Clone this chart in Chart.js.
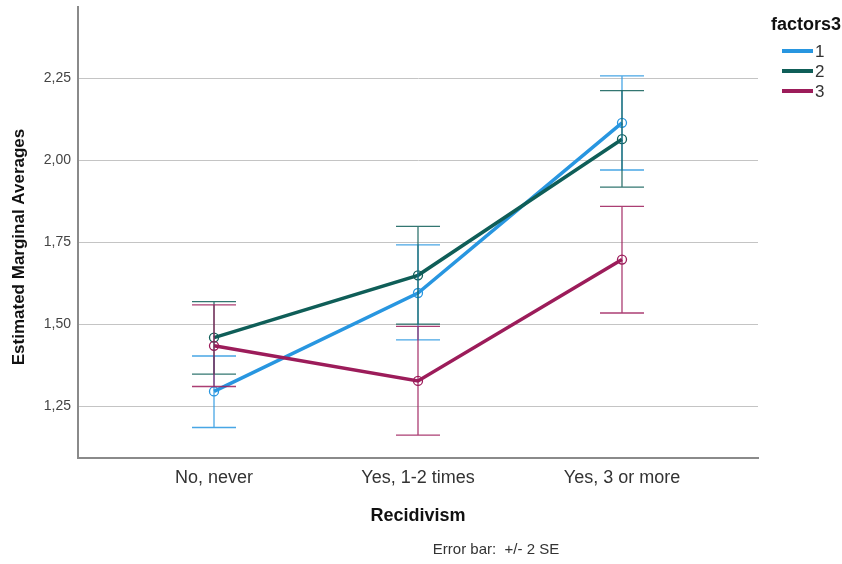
<!DOCTYPE html>
<html>
<head>
<meta charset="utf-8">
<script src="https://cdn.jsdelivr.net/npm/chart.js@4"></script>
<style>
  html, body { margin: 0; padding: 0; background: #fff; }
  canvas { display: block; }
</style>
</head>
<body>
<canvas id="c" width="842" height="564"></canvas>
<script>
// ---- data ----
const categories = ["No, never", "Yes, 1-2 times", "Yes, 3 or more"];
const seriesNames = ["1", "2", "3"];
const means1 = [1.295, 1.595, 2.114];
const means2 = [1.459, 1.649, 2.064];
const means3 = [1.434, 1.327, 1.697];
const upper1 = [1.403, 1.742, 2.257];
const lower1 = [1.185, 1.452, 1.970];
const upper2 = [1.569, 1.798, 2.212];
const lower2 = [1.348, 1.500, 1.918];
const upper3 = [1.559, 1.493, 1.859];
const lower3 = [1.310, 1.162, 1.534];
const yTickValues = [1.25, 1.50, 1.75, 2.00, 2.25];
const yTickLabels = ["1,25", "1,50", "1,75", "2,00", "2,25"];
const colors = ["#2896e0", "#0f5e58", "#9c1c5a"];

const seriesMeans = [means1, means2, means3];
const seriesUpper = [upper1, upper2, upper3];
const seriesLower = [lower1, lower2, lower3];

const FONT = "'Liberation Sans', Arial, sans-serif";

const datasets = seriesMeans.map((m, s) => ({
  label: seriesNames[s],
  data: m.map((v, i) => ({ x: i, y: v })),
  borderColor: colors[s],
  borderWidth: 3.5,
  pointRadius: 4.5,
  pointBorderWidth: 1.3,
  pointBorderColor: colors[s],
  pointBackgroundColor: 'rgba(255,255,255,0)',
  fill: false,
  tension: 0,
  order: 3 - s
}));

const extras = {
  id: 'extras',
  afterDatasetsDraw(chart) {
    const ctx = chart.ctx;
    const xs = chart.scales.x, ys = chart.scales.y;
    ctx.save();
    // error bars
    seriesMeans.forEach((m, s) => {
      ctx.strokeStyle = colors[s];
      ctx.globalAlpha = 0.85;
      ctx.lineWidth = 1.3;
      m.forEach((v, i) => {
        const px = xs.getPixelForValue(i);
        const pu = ys.getPixelForValue(seriesUpper[s][i]);
        const pl = ys.getPixelForValue(seriesLower[s][i]);
        const hw = 22;
        ctx.beginPath();
        ctx.moveTo(px, pu); ctx.lineTo(px, pl);
        ctx.moveTo(px - hw, pu); ctx.lineTo(px + hw, pu);
        ctx.moveTo(px - hw, pl); ctx.lineTo(px + hw, pl);
        ctx.stroke();
      });
    });
    ctx.globalAlpha = 1;
    // y-axis title
    ctx.fillStyle = '#111';
    ctx.font = "bold 17px " + FONT;
    ctx.textAlign = 'center';
    ctx.textBaseline = 'middle';
    ctx.save();
    ctx.translate(19, 247);
    ctx.rotate(-Math.PI / 2);
    ctx.fillText("Estimated Marginal Averages", 0, 0);
    ctx.restore();
    // x-axis title
    ctx.font = "bold 18px " + FONT;
    ctx.fillText("Recidivism", (chart.chartArea.left + chart.chartArea.right) / 2, 516);
    // footnote
    ctx.fillStyle = '#333';
    ctx.font = "15px " + FONT;
    ctx.fillText("Error bar:  +/- 2 SE", 496, 550);
    // legend
    ctx.fillStyle = '#111';
    ctx.font = "bold 18px " + FONT;
    ctx.textAlign = 'right';
    ctx.fillText("factors3", 841, 25);
    const ly = [51, 71, 91];
    seriesNames.forEach((n, s) => {
      ctx.strokeStyle = colors[s];
      ctx.lineWidth = 4;
      ctx.beginPath();
      ctx.moveTo(782, ly[s]); ctx.lineTo(813, ly[s]);
      ctx.stroke();
      ctx.fillStyle = '#333';
      ctx.font = "17px " + FONT;
      ctx.textAlign = 'left';
      ctx.fillText(n, 815, ly[s] + 1);
    });
    ctx.restore();
  }
};

new Chart(document.getElementById('c'), {
  type: 'line',
  data: { datasets },
  plugins: [extras],
  options: {
    responsive: false,
    animation: false,
    devicePixelRatio: 1,
    layout: { padding: { left: 0, top: 7, right: 84, bottom: 0 } },
    plugins: { legend: { display: false }, tooltip: { enabled: false } },
    scales: {
      x: {
        type: 'linear',
        min: -0.6667,
        max: 2.6667,
        afterFit(s) { s.height = 106; s.paddingLeft = 0; s.paddingRight = 0; },
        afterBuildTicks(s) { s.ticks = categories.map((c, i) => ({ value: i })); },
        ticks: {
          callback: (v) => categories[v],
          font: { family: FONT, size: 18 },
          color: '#333',
          padding: 9,
          maxRotation: 0,
          autoSkip: false
        },
        grid: { display: false, drawTicks: false },
        border: { display: true, color: '#8a8a8a', width: 2 }
      },
      y: {
        type: 'linear',
        min: 1.092,
        max: 2.467,
        afterFit(s) { s.width = 78; s.paddingTop = 0; s.paddingBottom = 0; },
        afterBuildTicks(s) { s.ticks = yTickValues.map(v => ({ value: v })); },
        ticks: {
          callback: (v) => yTickLabels[yTickValues.indexOf(v)],
          font: { family: FONT, size: 14 },
          color: '#444',
          padding: 7
        },
        grid: { color: '#c4c4c4', lineWidth: 1, drawTicks: false },
        border: { display: true, color: '#8a8a8a', width: 2 }
      }
    }
  }
});
</script>
</body>
</html>
